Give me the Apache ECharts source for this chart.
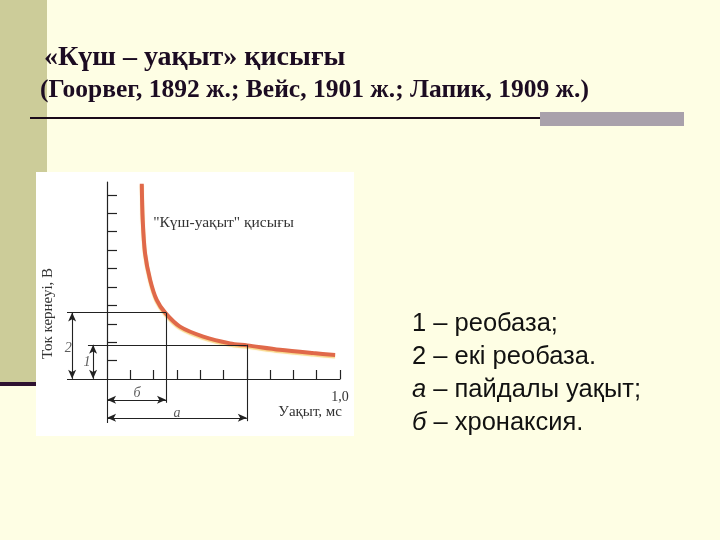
<!DOCTYPE html>
<html>
<head>
<meta charset="utf-8">
<script src="https://cdn.jsdelivr.net/npm/echarts@6/dist/echarts.min.js"></script>
<style>
  html, body { margin: 0; padding: 0; background: #fefee4; }
  #chart { width: 720px; height: 540px; }
</style>
</head>
<body>
<div id="chart"></div>
<script>
  // күш-уақыт қисығы
  const timeMs = [0.149, 0.153, 0.163, 0.185, 0.213, 0.251, 0.313, 0.413, 0.528, 0.602, 0.742, 0.885, 0.979];
  const current = [10.6, 8.64, 6.83, 5.38, 4.29, 3.57, 2.84, 2.30, 1.93, 1.82, 1.58, 1.40, 1.30];
  const xTicks = [0.1, 0.2, 0.3, 0.4, 0.5, 0.6, 0.7, 0.8, 0.9, 1.0];
  const yTicks = [1, 2, 3, 4, 5, 6, 7, 8, 9, 10];
  const xTickLabels = [1.0];

  const rheobase = 1.85;
  const doubleRheobase = 3.6;
  const chronaxie = 0.253;
  const usefulTime = 0.6;

  // small italic marks beside the arrows
  const noteTexts = ['2', '1', 'б', 'а'];
  const noteX = [-0.167, -0.086, 0.129, 0.30];
  const noteY = [1.68, 0.92, -0.76, -1.85];

  const legendLines = ['1 – реобаза;', '2 – екі реобаза.', '{i|а} – пайдалы уақыт;', '{i|б} – хронаксия.'];

  const serif = '"Liberation Serif", "DejaVu Serif", serif';
  const sans = '"Liberation Sans", Arial, sans-serif';
  const ink = '#222';

  const guide = (a, b) => [{ coord: a, symbol: 'none' }, { coord: b, symbol: 'none' }];
  const arrow = (a, b) => [{ coord: a }, { coord: b }];

  const myChart = echarts.init(document.getElementById('chart'));
  const option = {
    backgroundColor: '#fefee4',
    animation: false,
    title: [
      {
        text: '«Күш – уақыт» қисығы',
        left: 39, top: 39,
        textStyle: { fontFamily: serif, fontWeight: 'bold', fontSize: 28, color: '#1c0c22' }
      },
      {
        text: '(Гоорвег, 1892 ж.; Вейс, 1901 ж.; Лапик, 1909 ж.)',
        left: 35, top: 72,
        textStyle: { fontFamily: serif, fontWeight: 'bold', fontSize: 25.5, color: '#1c0c22' }
      }
    ],
    graphic: [
      { type: 'rect', shape: { x: 0, y: 0, width: 47, height: 383 }, style: { fill: '#cccc99' }, z: 0 },
      { type: 'rect', shape: { x: 0, y: 382, width: 47, height: 4 }, style: { fill: '#2e1230' }, z: 0 },
      { type: 'rect', shape: { x: 36, y: 172, width: 318, height: 264 }, style: { fill: '#ffffff' }, z: 1 },
      { type: 'line', shape: { x1: 30, y1: 118, x2: 545, y2: 118 }, style: { stroke: '#1a0a1a', lineWidth: 2 }, z: 1 },
      { type: 'rect', shape: { x: 540, y: 112, width: 144, height: 14 }, style: { fill: '#a9a1ab' }, z: 2 },
      ...legendLines.map((t, i) => ({
        type: 'text', left: 412, top: 311 + i * 33, z: 3,
        style: {
          text: t, fill: '#111', font: '25.5px ' + sans,
          rich: { i: { fontStyle: 'italic', fontSize: 25.5, fontFamily: sans, fill: '#111' } }
        }
      }))
    ],
    grid: [
      // visible axes: first quadrant only
      { left: 107, top: 182, width: 233, height: 197, outerBoundsMode: 'none' },
      // same scale, extended below and left for the guide lines
      { left: 67, top: 182, width: 273, height: 241, outerBoundsMode: 'none' }
    ],
    xAxis: [
      {
        gridIndex: 0, type: 'value', min: 0, max: 1.0, z: 5,
        name: 'Уақыт, мс', nameLocation: 'end', nameGap: 2,
        nameTextStyle: { fontFamily: serif, fontSize: 15, color: '#333', align: 'right', verticalAlign: 'top', padding: [26, 0, 0, 0] },
        axisLine: { lineStyle: { color: ink, width: 1.2 } },
        axisTick: { show: true, inside: true, length: 9, customValues: xTicks, lineStyle: { color: ink, width: 1.2 } },
        axisLabel: { customValues: xTickLabels, formatter: () => '1,0', fontFamily: serif, fontSize: 14, color: '#333', margin: 11 },
        splitLine: { show: false }
      },
      { gridIndex: 1, type: 'value', min: -0.172, max: 1.0, show: false }
    ],
    yAxis: [
      {
        gridIndex: 0, type: 'value', min: 0, max: 10.7, z: 5,
        name: 'Ток кернеуі, В', nameLocation: 'middle', nameGap: 51, nameRotate: 90,
        nameTextStyle: { fontFamily: serif, fontSize: 15, color: '#333', padding: [0, 66, 0, 0] },
        axisLine: { lineStyle: { color: ink, width: 1.2 } },
        axisTick: { show: true, inside: true, length: 10, customValues: yTicks, lineStyle: { color: ink, width: 1.2 } },
        axisLabel: { show: false },
        splitLine: { show: false }
      },
      { gridIndex: 1, type: 'value', min: -2.4, max: 10.7, show: false }
    ],
    series: [
      {
        type: 'line', name: 'guides', data: [], clip: false, silent: true,
        xAxisIndex: 1, yAxisIndex: 1,
        markLine: {
          silent: true, symbol: ['arrow', 'arrow'], symbolSize: [6, 9], precision: 3,
          label: { show: false },
          lineStyle: { color: ink, width: 1.1, type: 'solid' },
          emphasis: { disabled: true },
          data: [
            // axis lines carried past the origin
            guide([-0.172, 0], [0, 0]),
            guide([0, -2.4], [0, 0]),
            guide([-0.172, doubleRheobase], [chronaxie, doubleRheobase]),
            guide([-0.082, rheobase], [usefulTime, rheobase]),
            guide([chronaxie, doubleRheobase], [chronaxie, -1.3]),
            guide([usefulTime, rheobase], [usefulTime, -2.3]),
            arrow([-0.15, 0], [-0.15, doubleRheobase]),
            arrow([-0.06, 0], [-0.06, rheobase]),
            arrow([0, -1.14], [chronaxie, -1.14]),
            arrow([0, -2.12], [usefulTime, -2.12])
          ]
        }
      },
      {
        type: 'line', name: 'Күш-уақыт', xAxisIndex: 1, yAxisIndex: 1,
        data: timeMs.map((t, i) => [t, current[i]]),
        smooth: 0.3, showSymbol: false, clip: false, z: 4,
        lineStyle: { color: '#e0694a', width: 4, shadowColor: 'rgba(245,200,90,0.7)', shadowBlur: 1, shadowOffsetY: 1.5 },
        markPoint: {
          symbol: 'circle', symbolSize: 1, itemStyle: { color: 'rgba(0,0,0,0)' },
          label: { show: true, position: 'inside', formatter: '"Күш-уақыт" қисығы', fontFamily: serif, fontSize: 15.5, color: '#333' },
          data: [{ coord: [0.5, 8.48] }]
        }
      },
      {
        type: 'scatter', name: 'notes', silent: true, xAxisIndex: 1, yAxisIndex: 1,
        symbolSize: 1, itemStyle: { color: 'rgba(0,0,0,0)' },
        data: noteTexts.map((n, i) => ({ name: n, value: [noteX[i], noteY[i]] })),
        label: { show: true, position: 'inside', formatter: '{b}', fontFamily: serif, fontStyle: 'italic', fontSize: 14, color: '#333' }
      }
    ]
  };
  myChart.setOption(option);
</script>
</body>
</html>
